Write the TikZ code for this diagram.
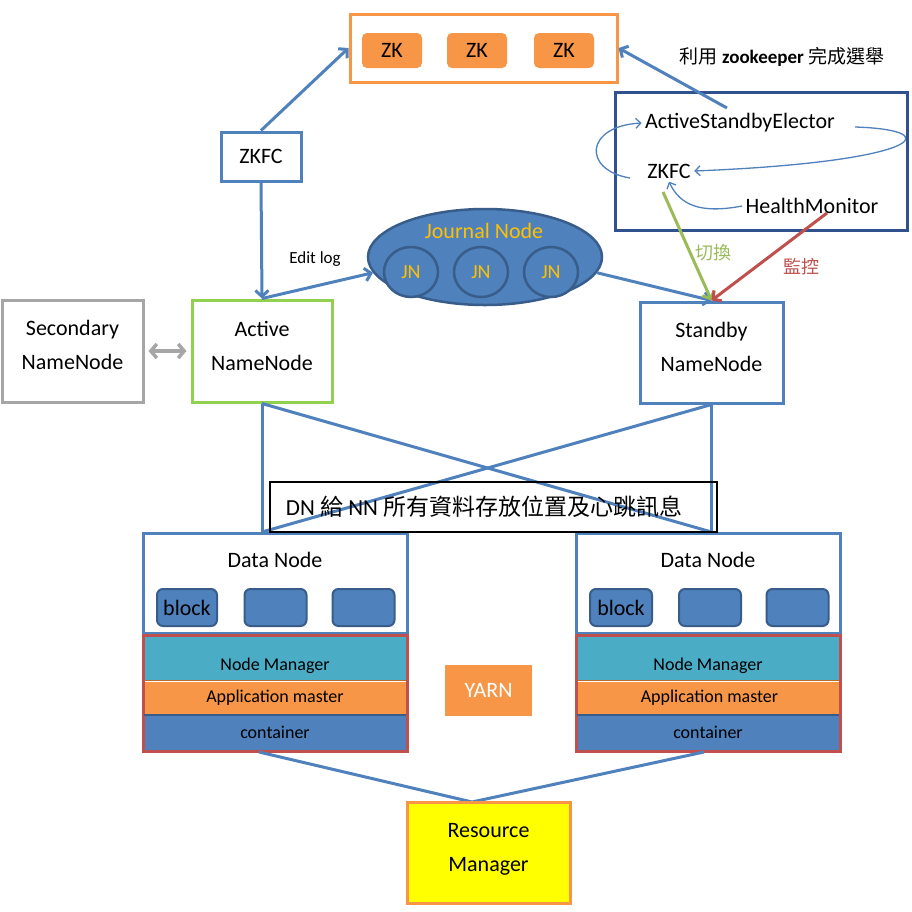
\documentclass[tikz,border=0pt]{standalone}
\usepackage{fontspec}
\setmainfont{Carlito}
\newfontfamily\cjk{Noto Sans CJK TC}
\usetikzlibrary{arrows.meta,shapes.geometric}
\definecolor{blueA}{HTML}{4F81BD}
\definecolor{blueD}{HTML}{385D8A}
\definecolor{blueE}{HTML}{2F528F}
\definecolor{orangeA}{HTML}{F79646}
\definecolor{greenBox}{HTML}{92D050}
\definecolor{greenArr}{HTML}{9BBB59}
\definecolor{redA}{HTML}{C0504D}
\definecolor{grayA}{HTML}{A6A6A6}
\definecolor{tealA}{HTML}{4BACC6}
\definecolor{goldA}{HTML}{FFC000}
\definecolor{yellowA}{HTML}{FFFF00}
\definecolor{brownA}{HTML}{B46E32}
\tikzset{
  f23/.style={font=\fontsize{23}{34}\selectfont},
  f22/.style={font=\fontsize{22}{34}\selectfont},
  f20/.style={font=\fontsize{20}{24}\selectfont},
  f19/.style={font=\fontsize{19}{23}\selectfont},
  f18/.style={font=\fontsize{18}{22}\selectfont},
  f17/.style={font=\fontsize{17}{20}\selectfont},
  box/.style={draw, line width=3pt, inner sep=0pt, align=center, f22},
  two/.style={align=center, inner sep=0pt, f22},
  zkbox/.style={fill=orangeA, rounded corners=5pt, minimum width=60pt, minimum height=35pt, inner sep=0pt, f22},
  blk/.style={fill=blueA, draw=blueD, line width=2pt, rounded corners=6pt, minimum height=37pt, inner sep=0pt, f22},
  band/.style={inner sep=0pt, minimum width=262pt, f18},
  arr/.style={line width=3pt, -{Straight Barb[length=6pt,width=13pt]}},
  thinarr/.style={line width=1.3pt, blueA, -{Straight Barb[length=5pt,width=10pt]}},
  conn/.style={line width=3pt, blueA},
  jn/.style={ellipse, fill=blueA, draw=blueD, line width=2.5pt, minimum width=54pt, minimum height=50pt, inner sep=0pt, text=goldA, f20},
}
\begin{document}
\begin{tikzpicture}[x=1pt,y=-1pt]
\useasboundingbox[fill=white] (0,0) rectangle (912,911);

% ZooKeeper ensemble
\node[box, draw=orangeA, minimum width=267pt, minimum height=68pt] (zkb) at (483.5,48) {};
\node[zkbox] (zk1) at (392,50.5) {ZK};
\node[zkbox] (zk2) at (477,50.5) {ZK};
\node[zkbox] (zk3) at (564,50.5) {ZK};
\node[f19] (elect) at (782,57) {{\cjk 利用} \textbf{zookeeper} {\cjk 完成選舉}};

% ZKFC left
\node[box, draw=blueA, minimum width=80pt, minimum height=49pt] (zkfcA) at (261,156.5) {ZKFC};

% Elector box
\node[box, draw=blueE, minimum width=292pt, minimum height=138pt] (elbox) at (761,161) {};
\node[f22] (elector) at (740,123) {ActiveStandbyElector};
\node[f22] (zkfcB) at (669,171) {ZKFC};
\node[f22] (health) at (812,206) {HealthMonitor};
\coordinate (elstart) at (727,108);
\coordinate (zkfcBbot) at (663,192);
\coordinate (hmbot) at (827,213);

% Name nodes
\node[box, draw=grayA, minimum width=141pt, minimum height=102pt] (sec) at (72.5,351) {};
\node[two] (secT) at (72.5,345) {Secondary\\NameNode};
\node[box, draw=greenBox, minimum width=140pt, minimum height=102pt] (act) at (262,351) {};
\node[two] (actT) at (262,346) {Active\\NameNode};
\node[box, draw=blueA, minimum width=143pt, minimum height=101pt] (stb) at (711.5,352.5) {};
\node[two] (stbT) at (711.5,347) {Standby\\NameNode};

% Journal nodes
\node[ellipse, fill=blueA, draw=blueD, line width=2.5pt, minimum width=234pt, minimum height=96pt, inner sep=0pt] (jour) at (485,257) {};
\node[f22, text=goldA] (jourt) at (484,231) {Journal Node};
\node[jn] (jn1) at (411,272) {JN};
\node[jn] (jn2) at (481,272) {JN};
\node[jn] (jn3) at (551,272) {JN};

% connectors top
\draw[arr, blueA] (zkfcA.north) -- (zkb.west);
\draw[arr, blueA] (zkfcA.south) -- (act.north);
\draw[arr, blueA] (act.north) -- (jour.188);
\node[f17] (edit) at (315,259) {Edit log};
\draw[arr, blueA] (jour.-8) -- (stb.north);
\draw[arr, blueA] (elstart) -- (zkb.east);

% internal curves
\draw[thinarr] (630,178) .. controls (582,170) and (585,126) .. (elector.west);
\draw[thinarr] (855,127) .. controls (950,130) and (920,162) .. (zkfcB.east);
\draw[thinarr] (health.west) .. controls (700,214) and (680,205) .. (zkfcB.south);

% switch / monitor
\draw[arr, greenArr] (zkfcBbot) -- (stb.north);
\node[f18, text=greenArr] (sw) at (713,253) {\cjk 切換};
\draw[arr, redA] (hmbot) -- (stb.north);
\node[f18, text=redA] (mon) at (801,267) {\cjk 監控};

% secondary <-> active
\draw[line width=3.5pt, grayA, {Straight Barb[length=6pt,width=14pt]}-{Straight Barb[length=6pt,width=14pt]}] ([xshift=4pt]sec.east) -- ([xshift=-4pt]act.west);

% Data nodes
\node[box, draw=blueA, minimum width=264pt, minimum height=100pt] (dn1) at (275,583.5) {};
\node[box, draw=blueA, minimum width=264pt, minimum height=100pt] (dn2) at (708,583.5) {};
\node[f22] (dn1t) at (275,560) {Data Node};
\node[f22] (dn2t) at (708,560) {Data Node};
\node[blk, minimum width=60pt] (b11) at (187,607.5) {block};
\node[blk, minimum width=62pt] (b12) at (275.5,607.5) {};
\node[blk, minimum width=62pt] (b13) at (363.5,607.5) {};
\node[blk, minimum width=62pt] (b21) at (621,607.5) {block};
\node[blk, minimum width=62pt] (b22) at (710,607.5) {};
\node[blk, minimum width=62pt] (b23) at (797.5,607.5) {};

% Stacks
\node[band, fill=tealA, minimum height=44pt] (nm1) at (275,658.5) {\raisebox{-5pt}[13pt][0pt]{Node Manager}};
\node[band, fill=orangeA, minimum height=32pt] (am1) at (275,697.5) {Application master};
\node[band, fill=blueA, minimum height=35pt] (ct1) at (275,732.5) {container};
\node[draw=redA, line width=3pt, minimum width=264pt, minimum height=116pt, inner sep=0pt] (st1) at (275,693) {};
\node[band, fill=tealA, minimum height=44pt] (nm2) at (708,658.5) {\raisebox{-5pt}[13pt][0pt]{Node Manager}};
\node[band, fill=orangeA, minimum height=32pt, minimum width=265pt] (am2) at (709.5,697.5) {Application master};
\node[band, fill=blueA, minimum height=35pt] (ct2) at (708,732.5) {container};
\node[draw=redA, line width=3pt, minimum width=264pt, minimum height=116pt, inner sep=0pt] (st2) at (708,693) {};
\draw[line width=1.5pt, brownA] (nm1.south west) -- (nm1.south east);
\draw[line width=1.5pt, blueD] (ct1.north west) -- (ct1.north east);
\draw[line width=1.5pt, brownA] (nm2.south west) -- (nm2.south east);
\draw[line width=1.5pt, blueD] (ct2.north west) -- (ct2.north east);

% NN -> DN lines
\draw[conn] (act.south) -- (act.south |- dn1.north);
\draw[conn] (stb.south) -- (stb.south |- dn2.north);
\draw[conn] (act.south) -- (stb.south |- dn2.north);
\draw[conn] (stb.south) -- (act.south |- dn1.north);
\node[draw=black, line width=1.5pt, minimum width=447pt, minimum height=50pt, inner sep=0pt] (lab) at (493.5,507) {};
\node[f23] (labt) at (484,507) {DN {\cjk 給} NN {\cjk 所有資料存放位置及心跳訊息}};

% YARN
\node[fill=orangeA, text=white, minimum width=87pt, minimum height=51pt, inner sep=0pt, f22] (yarn) at (488.5,690.5) {YARN};

% Resource manager
\coordinate (rmtop) at (472,802);
\coordinate (s1b) at (259,752);
\coordinate (s2b) at (704,752);
\draw[conn] (s1b) -- (rmtop) -- (s2b);
\node[box, draw=orangeA, fill=yellowA, minimum width=163pt, minimum height=101pt] (rm) at (488.5,852.5) {};
\node[two] (rmT) at (488.5,849) {Resource\\Manager};
\end{tikzpicture}
\end{document}
